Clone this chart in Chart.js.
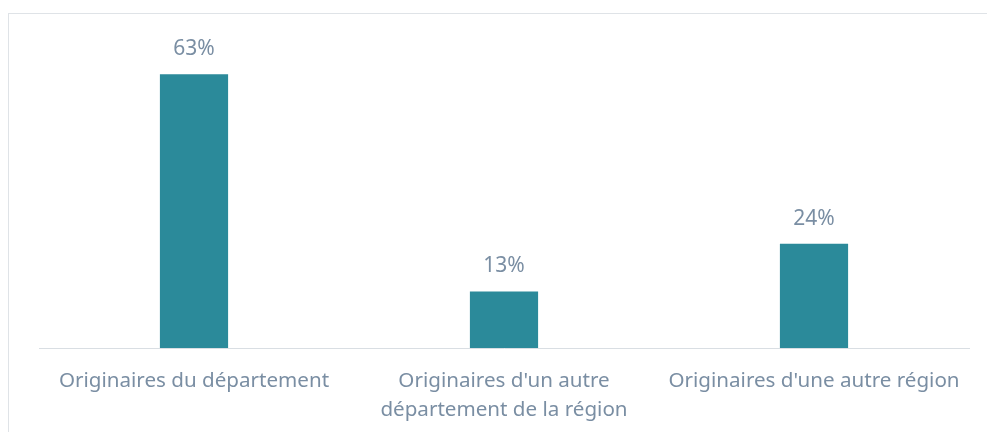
<!DOCTYPE html>
<html><head><meta charset="utf-8">
<script src="https://cdn.jsdelivr.net/npm/chart.js@4/dist/chart.umd.min.js"></script>
<style>
html,body{margin:0;padding:0;background:#fff;width:987px;height:432px;overflow:hidden;}
#frame{position:absolute;left:8px;top:13px;width:979px;height:419px;border-top:1px solid #dfe3e7;border-left:1px solid #dfe3e7;box-sizing:border-box;}
#wrap{position:absolute;left:9px;top:14px;width:978px;height:418px;}
</style></head><body>
<div id="frame"></div>
<div id="wrap"><canvas id="c"></canvas></div>
<script>
const categories = [
  "Originaires du département",
  ["Originaires d'un autre", "département de la région"],
  "Originaires d'une autre région"
];
const values = [63, 13, 24];
const valueLabels = ["63%", "13%", "24%"];

const textColor = '#7a8ea3';
const barColor = '#2b8a9a';
const fontFamily = "'Noto Sans', 'Open Sans', sans-serif";

const valueLabelPlugin = {
  id: 'valueLabels',
  afterDatasetsDraw(chart) {
    const ctx = chart.ctx;
    const meta = chart.getDatasetMeta(0);
    ctx.save();
    ctx.fillStyle = textColor;
    ctx.font = "21px " + fontFamily;
    ctx.textAlign = 'center';
    ctx.textBaseline = 'middle';
    meta.data.forEach((el, i) => {
      ctx.fillText(valueLabels[i], el.x, el.y - 25);
    });
    ctx.restore();
  }
};

new Chart(document.getElementById('c'), {
  type: 'bar',
  data: {
    labels: categories,
    datasets: [{ data: values, backgroundColor: barColor, borderWidth: 0,
      categoryPercentage: 1, barPercentage: 0.22 }]
  },
  options: {
    responsive: true, maintainAspectRatio: false, animation: false,
    layout: { padding: { top: 8, left: 30, right: 18, bottom: 0 } },
    plugins: { legend: { display: false }, tooltip: { enabled: false } },
    scales: {
      y: { display: false, min: 0, max: 75 },
      x: {
        grid: { display: false, drawTicks: false },
        border: { display: true, color: '#d9dee3', width: 1 },
        ticks: { color: textColor, font: { family: fontFamily, size: 20.6, lineHeight: 1.4 }, padding: 19, maxRotation: 0, autoSkip: false },
        afterFit(s) { s.height = 84; }
      }
    }
  },
  plugins: [valueLabelPlugin]
});
</script>
</body></html>
